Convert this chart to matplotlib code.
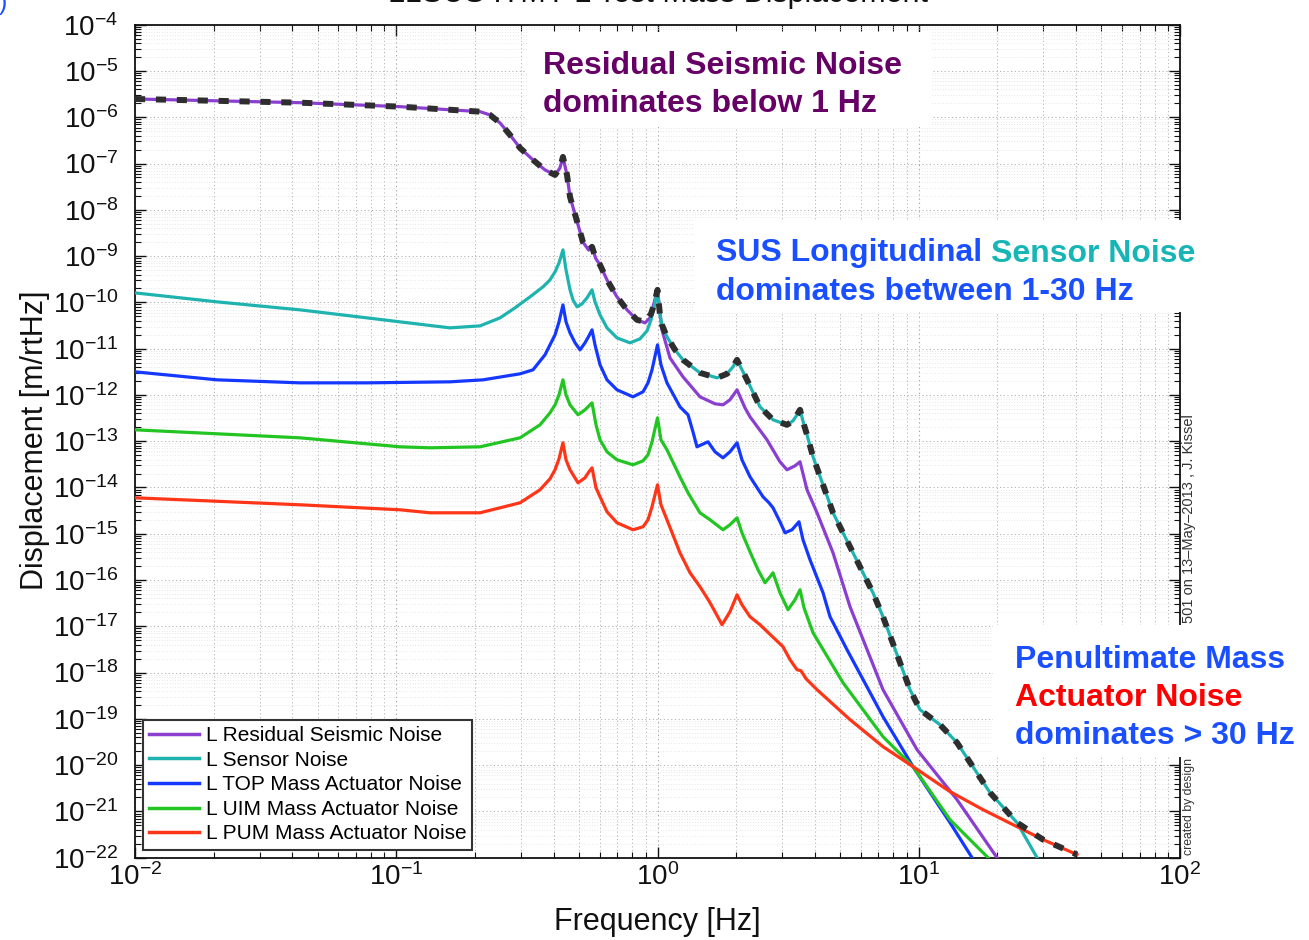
import numpy as np
import matplotlib
matplotlib.use("Agg")
import matplotlib.pyplot as plt
from matplotlib.patches import Rectangle
from matplotlib.ticker import LogLocator, LogFormatterMathtext, NullFormatter

plt.rcParams['font.family'] = ['Liberation Sans', 'DejaVu Sans']
plt.rcParams['mathtext.fontset'] = 'custom'
plt.rcParams['mathtext.rm'] = 'Liberation Sans'
plt.rcParams['mathtext.it'] = 'Liberation Sans:italic'
plt.rcParams['mathtext.bf'] = 'Liberation Sans:bold'

# ---------------- data: frequency [Hz] and log10 displacement [m/rtHz] ----------------
seismic_f = [0.01, 0.0428, 0.1033, 0.2093, 0.2285, 0.2496, 0.2725, 0.2977, 0.3337, 0.3710,
             0.4053, 0.4234, 0.4346, 0.4504, 0.4625, 0.5186, 0.545, 0.5615, 0.58, 0.6026,
             0.6407, 0.6998, 0.7644, 0.8347, 0.8959, 0.9361, 1.0, 1.040, 1.116, 1.252,
             1.454, 1.660, 1.781, 1.894, 2.016, 2.162, 2.260, 2.625, 2.943, 3.131,
             3.360, 3.512, 3.735, 4.080, 4.697, 5.457, 7.298, 9.85, 14.01, 19.93]
seismic_log = [-5.605, -5.685, -5.771, -5.879, -5.950, -6.123, -6.382, -6.663, -6.922, -7.138,
               -7.246, -7.095, -6.857, -7.246, -7.721, -8.70, -8.87, -8.80, -9.05, -9.190,
               -9.514, -9.881, -10.162, -10.378, -10.443, -10.335, -9.730, -10.594, -11.199, -11.609,
               -12.041, -12.192, -12.214, -12.106, -11.890, -12.279, -12.473, -12.970, -13.445, -13.618,
               -13.532, -13.445, -14.050, -14.547, -15.411, -16.577, -18.370, -19.666, -20.746, -21.998]

sensor_f = [0.01, 0.0206, 0.0428, 0.0773, 0.1033, 0.1606, 0.2093, 0.2496, 0.2847, 0.3251,
            0.3645, 0.3877, 0.4053, 0.4198, 0.4346, 0.4465, 0.4625, 0.4748, 0.4920, 0.5140,
            0.5372, 0.5615, 0.5765, 0.6026, 0.6407, 0.6998, 0.7847, 0.8571, 0.9117, 0.9443,
            0.9696, 1.0, 1.022, 1.040, 1.087, 1.167, 1.252, 1.454, 1.690, 1.845,
            1.945, 2.016, 2.088, 2.201, 2.468, 2.768, 3.131, 3.302, 3.420, 3.512,
            3.637, 3.735, 3.938, 4.697, 5.603, 6.68, 7.298, 9.26, 10.11, 12.06,
            14.01, 18.74, 23.77, 28.36]
sensor_log = [-9.795, -9.989, -10.162, -10.335, -10.421, -10.551, -10.508, -10.335, -10.119, -9.881,
              -9.665, -9.514, -9.341, -9.147, -8.866, -9.298, -9.730, -9.946, -10.097, -10.032,
              -9.903, -9.730, -9.989, -10.270, -10.551, -10.767, -10.875, -10.788, -10.616, -10.378,
              -10.119, -9.730, -10.270, -10.486, -10.745, -11.026, -11.242, -11.523, -11.631, -11.544,
              -11.393, -11.242, -11.415, -11.674, -12.257, -12.538, -12.646, -12.560, -12.430, -12.322,
              -12.646, -12.862, -13.337, -14.547, -15.411, -16.275, -16.793, -18.370, -18.802, -19.126,
              -19.514, -20.594, -21.242, -21.998]

top_f = [0.01, 0.0206, 0.0428, 0.0773, 0.1606, 0.2148, 0.2977, 0.3337, 0.3710, 0.3877,
         0.4053, 0.4198, 0.4346, 0.4465, 0.4625, 0.4837, 0.5051, 0.5277, 0.5466, 0.5615,
         0.5765, 0.6026, 0.6407, 0.6998, 0.8056, 0.8802, 0.9198, 0.9528, 1.0, 1.031,
         1.087, 1.219, 1.309, 1.367, 1.416, 1.561, 1.660, 1.781, 1.894, 2.016,
         2.105, 2.260, 2.534, 2.672, 2.768, 2.943, 3.076, 3.272, 3.480, 3.605,
         3.835, 4.301, 4.575, 5.315, 7.298, 9.51, 13.17, 15.99]
top_log = [-11.501, -11.674, -11.739, -11.739, -11.717, -11.674, -11.544, -11.458, -11.134, -10.918,
           -10.702, -10.421, -10.054, -10.421, -10.659, -10.875, -11.026, -10.875, -10.724, -10.594,
           -10.918, -11.350, -11.674, -11.890, -12.041, -11.933, -11.739, -11.458, -10.918, -11.350,
           -11.739, -12.257, -12.430, -12.797, -13.121, -13.013, -13.229, -13.359, -13.229, -13.035,
           -13.402, -13.769, -14.201, -14.331, -14.439, -14.741, -14.979, -14.914, -14.741, -15.130,
           -15.562, -16.275, -16.793, -17.506, -18.953, -20.033, -21.242, -21.998]

uim_f = [0.01, 0.0428, 0.1033, 0.1346, 0.2093, 0.2977, 0.3550, 0.3877, 0.4053, 0.4198,
         0.4346, 0.4465, 0.4625, 0.4963, 0.5277, 0.5466, 0.5615, 0.5816, 0.6026, 0.6407,
         0.6998, 0.8056, 0.8802, 0.9198, 0.9528, 1.0, 1.031, 1.087, 1.219, 1.309,
         1.454, 1.589, 1.781, 1.894, 2.016, 2.105, 2.260, 2.425, 2.579, 2.696,
         2.768, 2.943, 3.159, 3.360, 3.512, 3.637, 3.938, 5.129, 7.298, 9.51,
         13.17, 18.41]
uim_log = [-12.754, -12.927, -13.121, -13.143, -13.121, -12.927, -12.646, -12.387, -12.214, -11.998,
           -11.674, -11.998, -12.214, -12.430, -12.322, -12.236, -12.171, -12.646, -12.970, -13.229,
           -13.402, -13.510, -13.424, -13.294, -13.013, -12.495, -12.970, -13.186, -13.769, -14.115,
           -14.547, -14.698, -14.914, -14.806, -14.655, -14.979, -15.389, -15.778, -16.059, -15.929,
           -15.843, -16.275, -16.642, -16.426, -16.210, -16.599, -17.139, -18.219, -19.385, -20.033,
           -21.178, -21.998]

pum_f = [0.01, 0.0428, 0.1033, 0.1346, 0.2093, 0.2977, 0.3550, 0.3877, 0.4053, 0.4198,
         0.4346, 0.4465, 0.4625, 0.4963, 0.5277, 0.5466, 0.5615, 0.5816, 0.6026, 0.6407,
         0.6998, 0.8056, 0.8802, 0.9198, 0.9528, 1.0, 1.031, 1.087, 1.219, 1.332,
         1.454, 1.547, 1.589, 1.660, 1.766, 1.894, 2.016, 2.105, 2.260, 2.468,
         3.022, 3.216, 3.420, 3.542, 3.702, 4.080, 5.457, 7.298, 9.51, 13.17,
         17.62, 23.77, 29.90, 40.34]
pum_log = [-14.223, -14.374, -14.482, -14.547, -14.547, -14.331, -14.050, -13.812, -13.618, -13.380,
           -13.035, -13.402, -13.618, -13.899, -13.791, -13.661, -13.575, -14.007, -14.201, -14.525,
           -14.763, -14.914, -14.849, -14.698, -14.417, -13.942, -14.374, -14.698, -15.411, -15.843,
           -16.145, -16.383, -16.491, -16.685, -16.966, -16.685, -16.318, -16.534, -16.793, -16.966,
           -17.441, -17.722, -17.938, -17.960, -18.132, -18.370, -19.017, -19.601, -20.033, -20.572,
           -20.962, -21.329, -21.609, -21.933]

total_f = [0.01, 0.0428, 0.1033, 0.2093, 0.2285, 0.2496, 0.2725, 0.2977, 0.3337, 0.3710,
           0.4053, 0.4234, 0.4346, 0.4504, 0.4625, 0.5186, 0.545, 0.5615, 0.58, 0.6026,
           0.6407, 0.6998, 0.7644, 0.8347, 0.8959, 0.9443, 0.9696, 1.0, 1.022, 1.040,
           1.087, 1.167, 1.252, 1.454, 1.690, 1.845, 1.945, 2.016, 2.088, 2.201,
           2.468, 2.768, 3.131, 3.302, 3.420, 3.512, 3.637, 3.735, 3.938, 4.697,
           5.603, 6.68, 7.298, 9.26, 10.11, 12.06, 14.01, 18.74, 23.77, 29.90,
           40.34]
total_log = [-5.605, -5.685, -5.771, -5.879, -5.950, -6.123, -6.382, -6.663, -6.922, -7.138,
             -7.246, -7.095, -6.857, -7.246, -7.721, -8.70, -8.87, -8.80, -9.05, -9.190,
             -9.514, -9.881, -10.162, -10.378, -10.42, -10.25, -10.05, -9.730, -10.270, -10.486,
             -10.745, -11.026, -11.242, -11.523, -11.631, -11.544, -11.393, -11.242, -11.415, -11.674,
             -12.257, -12.538, -12.646, -12.560, -12.430, -12.322, -12.646, -12.862, -13.337, -14.547,
             -15.411, -16.275, -16.793, -18.370, -18.802, -19.126, -19.514, -20.594, -21.242, -21.609,
             -21.933]

series_labels = ['L Residual Seismic Noise', 'L Sensor Noise', 'L TOP Mass Actuator Noise',
                 'L UIM Mass Actuator Noise', 'L PUM Mass Actuator Noise']
series_colors = ['#8a3fd1', '#1fb3b0', '#1438ff', '#22c522', '#ff3517']

# ---------------- figure ----------------
W, H = 1309, 940
fig = plt.figure(figsize=(W / 100, H / 100), dpi=100)


def fx(px):
    return px / W


def fy(py):
    return 1 - py / H


ax_w = 1180 - 135
ax_h = 857.7 - 24.7
ax = fig.add_axes([fx(135), fy(857.7), ax_w / W, ax_h / H])
ax.set_xscale('log')
ax.set_yscale('log')

curves = [(seismic_f, seismic_log), (sensor_f, sensor_log), (top_f, top_log),
          (uim_f, uim_log), (pum_f, pum_log)]
for (f, v), c, lab in zip(curves, series_colors, series_labels):
    ax.plot(f, 10.0 ** np.asarray(v), color=c, lw=2.3, label=lab,
            solid_joinstyle='round', zorder=3)

ax.plot(total_f, 10.0 ** np.asarray(total_log), color='#2e2e2e', lw=4.3,
        dashes=(1.7, 1.8), dash_capstyle='butt', zorder=4)

ax.set_xlim(1e-2, 1e2)
ax.set_ylim(1e-22, 1e-4)

ax.xaxis.set_major_locator(LogLocator(base=10, numticks=20))
ax.yaxis.set_major_locator(LogLocator(base=10, numticks=40))
ax.xaxis.set_minor_locator(LogLocator(base=10, subs=np.arange(2, 10), numticks=400))
ax.yaxis.set_minor_locator(LogLocator(base=10, subs=np.arange(2, 10), numticks=400))
ax.xaxis.set_major_formatter(LogFormatterMathtext())
ax.yaxis.set_major_formatter(LogFormatterMathtext())
ax.xaxis.set_minor_formatter(NullFormatter())
ax.yaxis.set_minor_formatter(NullFormatter())

ax.tick_params(which='both', direction='in', top=True, right=True, colors='#111111')
ax.tick_params(which='major', length=8, width=1.0, labelsize=20)
ax.tick_params(axis='x', which='major', pad=4)
ax.tick_params(axis='y', which='major', pad=12)
ax.tick_params(which='minor', length=4, width=0.8)
for s in ax.spines.values():
    s.set_linewidth(1.3)
    s.set_color('#111111')

dot = (0, (1.2, 2.6))
ax.xaxis.grid(True, which='major', linestyle=dot, color='#a8a8a8', lw=0.8)
ax.xaxis.grid(True, which='minor', linestyle=dot, color='#b4b4b4', lw=0.7)
ax.yaxis.grid(True, which='major', linestyle=dot, color='#b0b0b0', lw=0.7)
ax.yaxis.grid(True, which='minor', linestyle=dot, color='#d8d8d8', lw=0.5)
ax.set_axisbelow(True)

leg = ax.legend(loc='lower left', bbox_to_anchor=(8 / ax_w, 8 / ax_h),
                fontsize=15, handlelength=2.4, handletextpad=0.3, labelspacing=0.27,
                borderpad=0.3, borderaxespad=0, frameon=True, fancybox=False,
                edgecolor='#333333', framealpha=1)
leg.get_frame().set_linewidth(1.5)
for ln in leg.get_lines():
    ln.set_linewidth(2.5)

# axis labels and title
fig.text(fx(35), fy(440), 'Displacement [m/rtHz]', rotation=90, ha='center', va='center',
         fontsize=22, color='#111111')
fig.text(fx(657), fy(922), 'Frequency [Hz]', ha='center', va='center', fontsize=22,
         color='#111111')
fig.text(fx(658), fy(2), 'L1SUS ITMY L Test Mass Displacement', ha='center', va='baseline',
         fontsize=22, color='#111111')
fig.text(fx(8), fy(10), 'b)', ha='right', va='baseline', fontsize=18, color='#1a4fff')

# small stamp along the right edge, split around the lower panel
fig.text(fx(1189), fy(855), 'created by design',
         rotation=90, ha='center', va='bottom', fontsize=8.8, color='#333333')
fig.text(fx(1189), fy(623), '501 on 13\u2013May\u20132013 , J. Kissel',
         rotation=90, ha='center', va='bottom', fontsize=10.5, color='#333333')

# white panels behind the annotations
for (x0, y0, x1, y1) in [(527, 32, 932, 127), (695, 220, 1182, 312), (993, 625, 1309, 757)]:
    fig.add_artist(Rectangle((fx(x0), fy(y1)), fx(x1) - fx(x0), fy(y0) - fy(y1),
                             transform=fig.transFigure, facecolor='white', edgecolor='none',
                             zorder=5))

purple_txt = '#660066'
blue_txt = '#1a4fff'
teal_txt = '#17b5b5'
red_txt = '#ff0000'
kw = dict(fontsize=23, fontweight='bold', va='baseline', ha='left', zorder=6)

fig.text(fx(543), fy(73.5), 'Residual Seismic Noise', color=purple_txt, **kw)
fig.text(fx(543), fy(111.5), 'dominates below 1 Hz', color=purple_txt, **kw)

t_sus = fig.text(fx(716), fy(261.5), 'SUS Longitudinal', color=blue_txt, **kw)
fig.canvas.draw()
bb = t_sus.get_window_extent()
fig.text((bb.x1 + 9) / W, fy(261.5), 'Sensor Noise', color=teal_txt, **kw)
fig.text(fx(716), fy(300), 'dominates between 1-30 Hz', color=blue_txt, **kw)

fig.text(fx(1015), fy(668.5), 'Penultimate Mass', color=blue_txt, **kw)
fig.text(fx(1015), fy(705.5), 'Actuator Noise', color=red_txt, **kw)
fig.text(fx(1015), fy(743.5), 'dominates > 30 Hz', color=blue_txt, **kw)

fig.savefig('out.png', dpi=100, facecolor='white')
